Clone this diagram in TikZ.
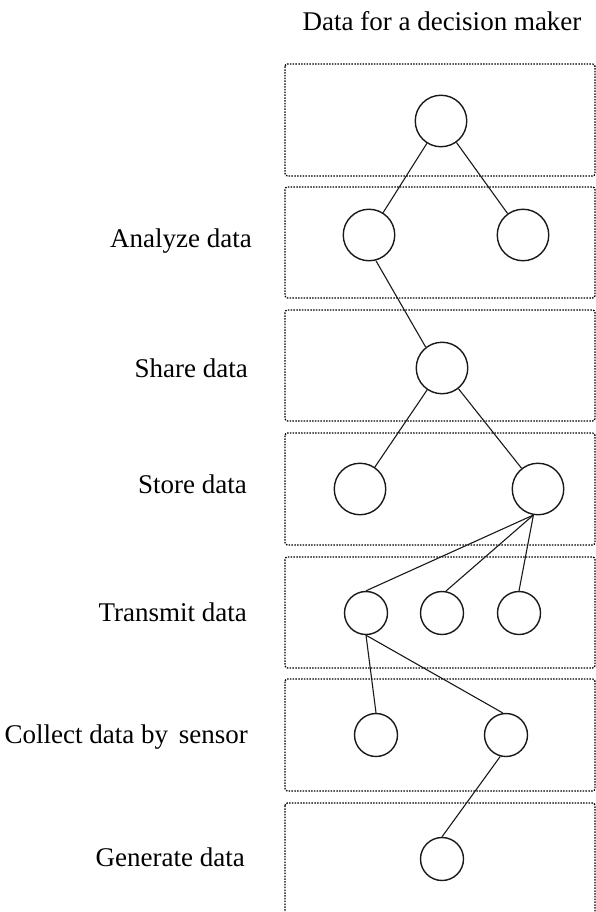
\documentclass[tikz,border=0pt]{standalone}
\usepackage{fontspec}
\setmainfont{Liberation Serif}
\begin{document}
\begin{tikzpicture}[x=1pt,y=-1pt,
  layer/.style={draw=black, line width=1.3pt, dash pattern=on 1.5pt off 1.3pt, rounded corners=2.5pt},
  bignode/.style={circle, draw=black!90, line width=1.4pt, inner sep=0pt, minimum size=51.5pt},
  smallnode/.style={circle, draw=black!90, line width=1.4pt, inner sep=0pt, minimum size=43pt},
  link/.style={draw=black!90, line width=1.1pt},
  lbl/.style={anchor=base east, inner sep=0pt, font=\fontsize{27}{32}\selectfont}]
\useasboundingbox (0,0) rectangle (596,912);

% horizontal layers
\draw[layer] (285,64)  rectangle (595,176);
\draw[layer] (285,187) rectangle (595,298);
\draw[layer] (285,310) rectangle (595,421);
\draw[layer] (285,433) rectangle (595,545);
\draw[layer] (285,557) rectangle (595,668);
\draw[layer] (285,679) rectangle (595,791);
\draw[layer] (285,803) rectangle (595,930);

% title
\node[anchor=base, inner sep=0pt, font=\fontsize{27}{32}\selectfont] (title) at (442,31) {Data for a decision maker};

% layer labels
\node[lbl] (lanalyze)  at (252,247) {Analyze data};
\node[lbl] (lshare)    at (248,377) {Share data};
\node[lbl] (lstore)    at (247,493) {Store data};
\node[lbl] (ltransmit) at (247,621) {Transmit data};
\node[lbl] (lcollect)  at (248,743) {Collect data by\hspace{4pt} sensor};
\node[lbl] (lgenerate) at (245,866) {Generate data};

% nodes
\node[bignode] (top)  at (441,121) {};
\node[bignode] (anl)  at (369,235) {};
\node[bignode] (anr)  at (523,235) {};
\node[bignode] (sh)   at (442,368) {};
\node[bignode] (stl)  at (360,489) {};
\node[bignode] (str)  at (538,489) {};
\node[smallnode] (trl) at (366,613) {};
\node[smallnode] (trm) at (442,613) {};
\node[smallnode] (trr) at (519,613) {};
\node[smallnode] (col) at (376,735) {};
\node[smallnode] (cor) at (506,735) {};
\node[smallnode] (gen) at (442,859) {};

% connectors
\draw[link] (top) -- (anl);
\draw[link] (top) -- (anr);
\draw[link] (anl.-75) -- (sh.128);
\draw[link] (sh) -- (stl);
\draw[link] (sh) -- (str);
\draw[link] (str.-100) -- (trl.north);
\draw[link] (str.-100) -- (trm.80);
\draw[link] (str.-100) -- (trr.north);
\draw[link] (trl.south) -- (col.north);
\draw[link] (trl.south) -- (cor.98);
\draw[link] (cor.-105) -- (gen.north);
\end{tikzpicture}
\end{document}
